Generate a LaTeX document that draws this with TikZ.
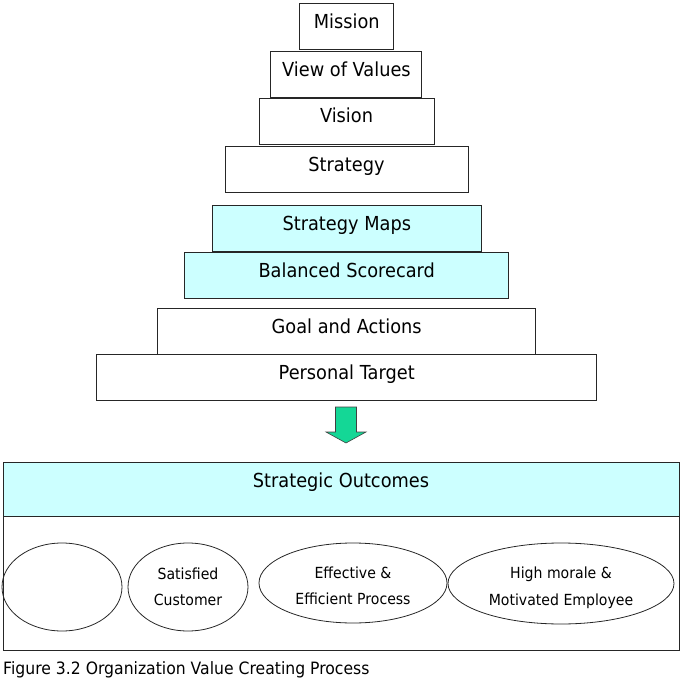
\documentclass[tikz,border=0pt]{standalone}
\usepackage{fontspec}
\setmainfont{DejaVu Sans}[FakeStretch=0.92]
\usetikzlibrary{shapes.geometric}
\definecolor{paleblue}{RGB}{204,255,255}
\definecolor{arrowgreen}{RGB}{20,215,150}
\newcommand{\tierfont}{\fontsize{19.3}{23}\selectfont}
\newcommand{\goalfont}{\fontsize{15.3}{26.5}\selectfont}
\newcommand{\capfont}{\fontsize{17}{20}\selectfont}
\begin{document}
\begin{tikzpicture}[x=1pt, y=-1pt,
  tier/.style={draw=black!85, line width=0.9pt, minimum height=46pt, inner sep=0pt, text height=14pt, text depth=10pt, font=\tierfont},
  tierhl/.style={tier, fill=paleblue},
  goal/.style={ellipse, draw=black!85, line width=0.8pt, inner sep=0pt, align=center, font=\goalfont},
  bigarrow/.style={fill=arrowgreen, draw=black!75, line width=0.6pt}
]
\useasboundingbox (0,0) rectangle (680,679);
\node[tier, minimum width=94pt] (mission) at (346.8,26.7) {Mission};
\node[tier, minimum width=151pt] (values) at (346.4,74.7) {View of Values};
\node[tier, minimum width=175pt] (vision) at (346.5,121) {Vision};
\node[tier, minimum width=243pt] (strategy) at (346.5,169.2) {Strategy};
\node[tierhl, minimum width=269pt] (maps) at (346.8,228.7) {Strategy Maps};
\node[tierhl, minimum width=324pt] (bsc) at (346.7,275) {Balanced Scorecard};
\node[tier, minimum width=378pt] (goals) at (346.7,331.3) {Goal and Actions};
\node[tier, minimum width=500pt] (target) at (346.7,377.3) {Personal Target};
\coordinate (arrtop) at (346,407);
\draw[bigarrow] (arrtop) ++(-10.5,0) -- ++(21,0) -- ++(0,25) -- ++(9.5,0) -- ++(-20,11) -- ++(-20,-11) -- ++(9.5,0) -- cycle;
\node[draw=black!85, line width=0.9pt, minimum width=676pt, minimum height=188pt, inner sep=0pt] (outbox) at (341,556) {};
\node[tier, fill=paleblue, minimum width=676pt, minimum height=54pt, text depth=17.4pt] (outhead) at (341,489) {Strategic Outcomes};
\node[goal, minimum width=120pt, minimum height=88pt] (blank) at (62,587) {};
\node[goal, minimum width=120pt, minimum height=88pt, text height=40.5pt, text depth=3.5pt] (customer) at (188,587) {Satisfied\\Customer};
\node[goal, minimum width=188pt, minimum height=80pt, text height=46.5pt, text depth=3.5pt] (process) at (353,583) {Effective \&\\Efficient Process};
\node[goal, minimum width=226pt, minimum height=81pt, text height=46.5pt, text depth=3.5pt] (employee) at (561,583.5) {High morale \&\\Motivated Employee};
\node[anchor=base west, inner sep=0pt, font=\capfont] (caption) at (3,674.5) {Figure 3.2 Organization Value Creating Process};
\end{tikzpicture}
\end{document}
